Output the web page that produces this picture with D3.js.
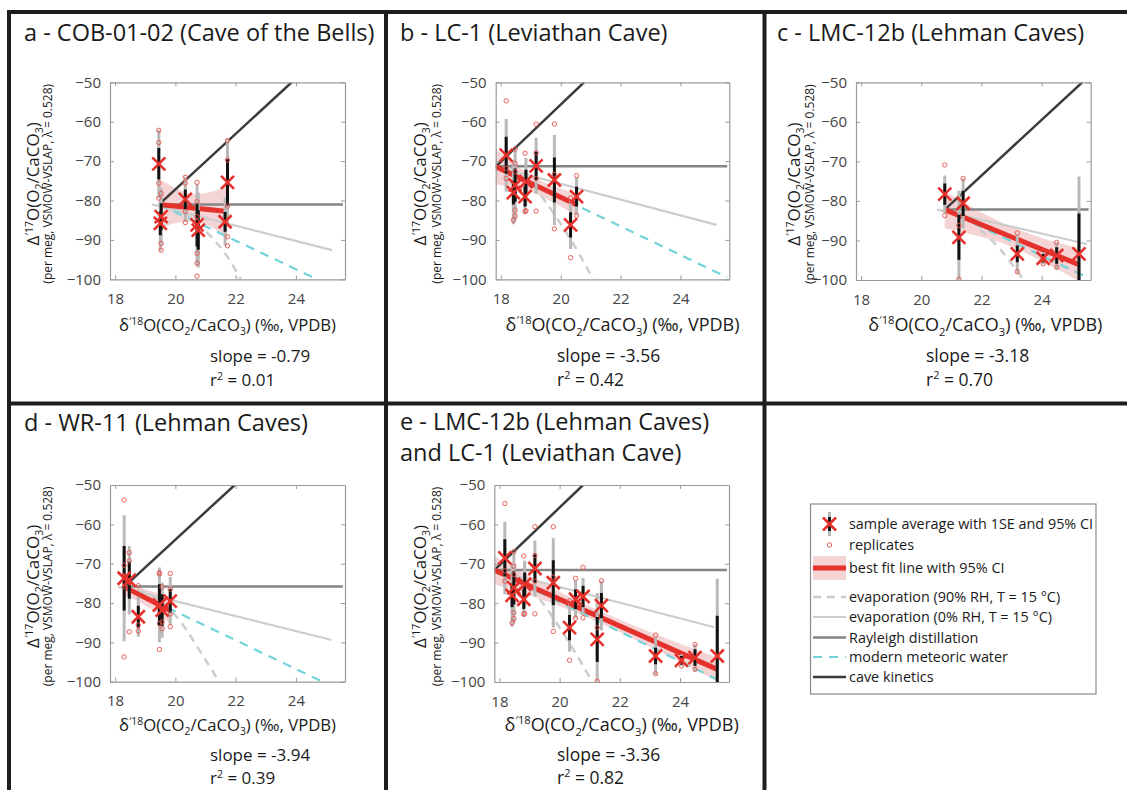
<!DOCTYPE html>
<html><head><meta charset="utf-8">
<script src="https://cdn.jsdelivr.net/npm/d3@7"></script>
<style>
body{margin:0;background:#fff}
svg{display:block}
text{font-family:"Open Sans",sans-serif}
</style></head>
<body><svg id="chart" width="1127" height="790"></svg>
<script>
// ---------------- DATA ----------------
const panelTitles = [
  ["a - COB-01-02 (Cave of the Bells)"],
  ["b - LC-1 (Leviathan Cave)"],
  ["c - LMC-12b (Lehman Caves)"],
  ["d - WR-11 (Lehman Caves)"],
  ["e - LMC-12b (Lehman Caves)", "and LC-1 (Leviathan Cave)"]
];
const slopeLabels = ["-0.79", "-3.56", "-3.18", "-3.94", "-3.36"];
const r2Labels = ["0.01", "0.42", "0.70", "0.39", "0.82"];
const xTicks = [18, 20, 22, 24];
const yTicks = [-50, -60, -70, -80, -90, -100];
const xDomain = [17.83, 25.63];
const yDomain = [-100, -50];

// samples: [x, mean, 1SE, 95% CI half-width]
const aSamples = [
  [19.45, -70.7, 4.0, 8.6], [19.53, -84.1, 3.4, 7.2], [19.50, -85.8, 3.0, 7.0],
  [20.33, -79.7, 2.5, 5.7], [20.72, -86.2, 5.5, 10.3], [20.76, -87.5, 5.0, 9.5],
  [21.73, -75.4, 5.9, 11.0], [21.65, -85.4, 2.5, 6.1]
];
const bSamples = [
  [18.18, -68.5, 4.7, 9.2], [18.48, -76.1, 4.2, 9.0], [18.42, -78.0, 3.0, 8.0],
  [18.84, -75.2, 3.0, 6.0], [18.81, -79.0, 2.5, 4.5], [19.18, -71.2, 3.6, 7.1],
  [19.79, -74.8, 5.7, 11.4], [20.33, -86.2, 3.2, 6.1], [20.53, -79.0, 2.5, 4.8]
];
const cSamples = [
  [20.78, -78.3, 2.7, 4.7], [21.39, -80.6, 3.2, 6.3], [21.25, -89.2, 5.7, 11.8],
  [23.19, -93.4, 2.1, 4.8], [24.05, -94.5, 1.1, 1.5], [24.50, -93.8, 2.1, 3.4],
  [25.24, -93.4, 10.2, 19.6]
];
const dSamples = [
  [18.30, -73.7, 8.2, 16.0], [18.47, -74.2, 4.7, 8.7], [18.77, -83.5, 2.8, 5.1],
  [19.47, -80.5, 5.3, 9.5], [19.56, -81.8, 4.0, 7.0], [19.83, -79.5, 3.0, 6.1]
];
const eSamples = bSamples.concat(cSamples);

// replicates: [x, value]
const aReps = [
  [19.45, -62.2], [19.45, -65.3], [19.45, -75.6], [19.45, -79.4],
  [19.53, -78.2], [19.53, -90.9], [19.53, -92.6],
  [20.33, -74.1], [20.33, -75.6], [20.33, -82.8], [20.33, -85.6],
  [20.72, -75.4], [20.72, -80.3], [20.72, -84.1], [20.72, -85.4], [20.72, -93.4], [20.72, -95.9], [20.72, -99.2],
  [21.73, -64.8], [21.73, -69.7], [21.73, -81.4], [21.73, -89.2], [21.73, -91.5]
];
const bReps = [
  [18.18, -54.7], [18.18, -71.8], [18.18, -74.4],
  [18.48, -66.9], [18.48, -70.6], [18.48, -72.7], [18.48, -82.4], [18.48, -83.9], [18.42, -85.0],
  [18.81, -68.0], [18.81, -82.8], [18.84, -82.6],
  [19.18, -60.6], [19.18, -67.9], [19.18, -74.4], [19.18, -82.7],
  [19.79, -60.6], [19.79, -73.4], [19.79, -87.2],
  [20.33, -79.4], [20.33, -94.5],
  [20.53, -73.7], [20.53, -83.8]
];
const cReps = [
  [20.78, -70.9], [20.78, -83.7], [21.39, -74.3], [21.25, -86.2], [21.25, -99.8],
  [23.19, -88.1], [23.19, -97.9], [24.05, -94.6], [24.05, -95.9], [24.50, -90.5], [24.50, -96.8]
];
const dReps = [
  [18.30, -53.8], [18.30, -70.4], [18.30, -75.9], [18.30, -93.7],
  [18.47, -67.2], [18.47, -69.3], [18.47, -87.3],
  [18.77, -75.6], [18.77, -85.6], [18.77, -87.1],
  [19.47, -72.3], [19.47, -72.6], [19.47, -85.2], [19.47, -91.8],
  [19.56, -75.9], [19.56, -84.8], [19.56, -86.5],
  [19.83, -72.5], [19.83, -76.5], [19.83, -82.8], [19.83, -86.0]
];
const eReps = bReps.concat(cReps);

// best-fit lines (start, end) and 95% CI band [x, low, high]
const fitLines = [
  [[19.46, -81.0], [21.73, -82.8]],
  [[17.83, -71.4], [20.53, -81.1]],
  [[20.78, -82.2], [25.24, -96.1]],
  [[18.30, -75.9], [19.83, -81.9]],
  [[17.83, -71.6], [25.24, -96.8]]
];
const aBand = [[19.46, -87.3, -74.5], [20.1, -85.6, -77.2], [20.6, -85.3, -78.4], [21.2, -86.8, -77.8], [21.73, -89.6, -76.0]];
const bBand = [[17.83, -75.9, -66.9], [18.5, -76.9, -70.9], [19.2, -78.4, -74.4], [19.9, -81.1, -76.7], [20.53, -83.9, -78.3]];
const cBand = [[20.78, -86.9, -77.5], [21.9, -88.9, -82.5], [23.0, -91.6, -86.6], [24.1, -95.6, -89.6], [25.24, -100.3, -91.9]];
const dBand = [[18.3, -78.0, -73.8], [18.7, -79.3, -75.5], [19.05, -80.9, -76.7], [19.45, -82.8, -77.6], [19.83, -85.5, -78.2]];
const eBand = [[17.83, -75.1, -68.1], [19.6, -79.6, -75.6], [21.4, -85.2, -82.2], [23.3, -92.2, -88.2], [25.24, -99.8, -93.8]];

// model lines per panel (a..e)
const kineticsLines = [
  [[19.46, -81.0], [23.86, -50]], [[17.83, -71.4], [20.78, -50]], [[20.78, -82.2], [25.35, -50]],
  [[18.30, -75.9], [21.97, -50]], [[17.83, -71.6], [20.78, -50]]
];
const rayleighLines = [
  [[19.46, -81.0], [25.56, -81.0]], [[17.83, -71.3], [25.56, -71.3]], [[20.78, -82.2], [25.56, -82.2]],
  [[18.30, -75.8], [25.56, -75.8]], [[17.83, -71.6], [25.56, -71.6]]
];
const evap0Lines = [
  [[19.22, -81.0], [25.2, -92.6]], [[17.83, -71.4], [25.2, -86.2]], [[20.53, -82.2], [25.5, -90.9]],
  [[18.10, -75.9], [25.19, -89.4]], [[17.83, -71.6], [25.14, -86.1]]
];
const evap90Lines = [
  [[19.46, -81.0], [20.1, -82.2], [20.72, -85.9], [21.2, -89.3], [21.7, -94.0], [22.17, -100]],
  [[17.83, -71.4], [18.45, -72.6], [19.05, -75.9], [19.53, -80.7], [20.3, -89.5], [21.09, -100]],
  [[20.78, -82.2], [21.4, -83.4], [22.0, -87.5], [22.6, -92.0], [23.17, -97.6], [23.4, -100]],
  [[18.30, -75.9], [18.9, -77.1], [19.52, -79.7], [20.13, -84.35], [20.8, -92.0], [21.45, -100]],
  [[17.83, -71.6], [18.45, -72.8], [19.05, -76.2], [19.53, -80.9], [20.3, -89.8], [21.09, -100]]
];
const meteoricLines = [
  [[19.46, -81.0], [24.71, -100]], [[17.83, -71.4], [25.56, -99.5]], [[20.78, -82.2], [25.56, -99.5]],
  [[18.30, -75.9], [24.88, -100]], [[17.83, -71.6], [25.40, -100]]
];

const legendLabels = [
  "sample average with 1SE and 95% CI", "replicates", "best fit line with 95% CI",
  "evaporation (90% RH, T = 15 °C)", "evaporation (0% RH, T = 15 °C)",
  "Rayleigh distillation", "modern meteoric water", "cave kinetics"
];

const samplesList = [aSamples, bSamples, cSamples, dSamples, eSamples];
const repsList = [aReps, bReps, cReps, dReps, eReps];
const bandList = [aBand, bBand, cBand, dBand, eBand];

// ---------------- STYLE / LAYOUT ----------------
const COL = {
  red: "#e4312c", band: "#e9a9ac", kin: "#3b3b3b", ray: "#858585", evap: "#cdcdcd",
  met: "#72d4d8", ci: "#b9b9b9", se: "#111111", axis: "#9a9a9a", tick: "#444444", border: "#1e1e1e"
};
const layout = [
  {L: 110, R: 345, T: 82.3, B: 279.3, tx: 24, ty: 41, yl1: 39, yl2: 52, sx: 210, xo: 0, xf: 16.7, sf: 17, row: 0},
  {L: 495.7, R: 729.3, T: 82.3, B: 279.3, tx: 400, ty: 41, yl1: 426, yl2: 441, sx: 557, xo: 10, xf: 18, sf: 17.5, row: 0},
  {L: 856, R: 1090.7, T: 82.3, B: 280, tx: 777, ty: 41, yl1: 800, yl2: 814, sx: 926, xo: 12, xf: 18, sf: 17.5, row: 0},
  {L: 110, R: 345, T: 485, B: 681.7, tx: 24, ty: 431, yl1: 39, yl2: 52, sx: 210, xo: 0, xf: 16.7, sf: 17, row: 1},
  {L: 494.3, R: 729, T: 485, B: 682, tx: 400, ty: 430, yl1: 426, yl2: 441, sx: 557, xo: 10, xf: 18, sf: 17.5, row: 1}
];
const rowText = [
  {tick: 14, xlab: 331, slope: 362, r2: 386},
  {tick: 14, xlab: 731, slope: 761, r2: 784}
];

const svg = d3.select("#chart");

function rich(sel, parts, size) {
  let state = "n";
  parts.forEach(([t, m]) => {
    const small = size * 0.62;
    const shiftSup = -size * 0.38, shiftSub = size * 0.25;
    const cur = state === "sup" ? shiftSup : state === "sub" ? shiftSub : 0;
    const nxt = m === "sup" ? shiftSup : m === "sub" ? shiftSub : 0;
    sel.append("tspan").attr("dy", nxt - cur).attr("font-size", m === "n" ? size : small).text(t);
    state = m;
  });
}

layout.forEach((p, i) => {
  const x = d3.scaleLinear().domain(xDomain).range([p.L, p.R]);
  const y = d3.scaleLinear().domain(yDomain).range([p.B, p.T]);
  const g = svg.append("g");
  const clipId = "clip" + i;
  svg.append("clipPath").attr("id", clipId).append("rect")
    .attr("x", p.L).attr("y", p.T).attr("width", p.R - p.L).attr("height", p.B - p.T);
  const pg = g.append("g").attr("clip-path", `url(#${clipId})`);

  const area = d3.area().x(d => x(d[0])).y0(d => y(d[1])).y1(d => y(d[2])).curve(d3.curveMonotoneX);
  pg.append("path").datum(bandList[i]).attr("d", area).attr("fill", COL.band).attr("fill-opacity", 0.5);

  const line = d3.line().x(d => x(d[0])).y(d => y(d[1]));
  const lineC = d3.line().x(d => x(d[0])).y(d => y(d[1])).curve(d3.curveMonotoneX);
  pg.append("path").datum(evap0Lines[i]).attr("d", line).attr("fill", "none").attr("stroke", COL.evap).attr("stroke-width", 2.2);
  pg.append("path").datum(evap90Lines[i]).attr("d", lineC).attr("fill", "none").attr("stroke", COL.evap).attr("stroke-width", 2.5).attr("stroke-dasharray", "8,6");
  pg.append("path").datum(meteoricLines[i]).attr("d", line).attr("fill", "none").attr("stroke", COL.met).attr("stroke-width", 2.2).attr("stroke-dasharray", "9,7");
  pg.append("path").datum(rayleighLines[i]).attr("d", line).attr("fill", "none").attr("stroke", COL.ray).attr("stroke-width", 2.5);
  pg.append("path").datum(kineticsLines[i]).attr("d", line).attr("fill", "none").attr("stroke", COL.kin).attr("stroke-width", 2.5);

  pg.append("path").datum(fitLines[i]).attr("d", line).attr("fill", "none").attr("stroke", COL.red).attr("stroke-width", 5);

  const S = samplesList[i];
  pg.selectAll(".ci").data(S).join("line")
    .attr("x1", d => x(d[0])).attr("x2", d => x(d[0]))
    .attr("y1", d => y(d[1] - d[3])).attr("y2", d => y(d[1] + d[3]))
    .attr("stroke", COL.ci).attr("stroke-width", 3);
  pg.selectAll(".se").data(S).join("line")
    .attr("x1", d => x(d[0])).attr("x2", d => x(d[0]))
    .attr("y1", d => y(d[1] - d[2])).attr("y2", d => y(d[1] + d[2]))
    .attr("stroke", COL.se).attr("stroke-width", 3);
  pg.selectAll(".rep").data(repsList[i]).join("circle")
    .attr("cx", d => x(d[0])).attr("cy", d => y(d[1])).attr("r", 2.2)
    .attr("fill", "none").attr("stroke", "#e8504c").attr("stroke-width", 0.9);
  pg.selectAll(".avg").data(S).join("path")
    .attr("transform", d => `translate(${x(d[0])},${y(d[1])})`)
    .attr("d", "M-6.5,-6.5L6.5,6.5M-6.5,6.5L6.5,-6.5")
    .attr("stroke", COL.red).attr("stroke-width", 2.6).attr("fill", "none");

  const ax = [
    d3.axisBottom(x).tickValues(xTicks).tickSize(-4).tickSizeOuter(0).tickPadding(rowText[p.row].tick),
    d3.axisTop(x).tickValues(xTicks).tickSize(-4).tickSizeOuter(0).tickFormat(""),
    d3.axisLeft(y).tickValues(yTicks).tickSize(-4).tickSizeOuter(0).tickPadding(9),
    d3.axisRight(y).tickValues(yTicks).tickSize(-4).tickSizeOuter(0).tickFormat("")
  ];
  const tr = [`translate(0,${p.B})`, `translate(0,${p.T})`, `translate(${p.L},0)`, `translate(${p.R},0)`];
  ax.forEach((a, k) => {
    const ag = g.append("g").attr("transform", tr[k]).call(a);
    ag.select(".domain").attr("stroke", COL.axis).attr("stroke-width", 1.2);
    ag.selectAll(".tick line").attr("stroke", COL.axis);
    ag.selectAll(".tick text").attr("fill", COL.tick).attr("font-size", 15)
      .attr("font-family", '"Open Sans",sans-serif');
  });

  panelTitles[i].forEach((t, k) => {
    g.append("text").attr("x", p.tx).attr("y", p.ty + k * 31).attr("font-size", 23.5).attr("fill", "#1a1a1a").text(t);
  });

  const cy = (p.T + p.B) / 2 + 3;
  const yl = g.append("text").attr("transform", `translate(${p.yl1},${cy}) rotate(-90)`)
    .attr("text-anchor", "middle").attr("fill", "#1a1a1a");
  rich(yl, [["Δ", "n"], ["′17", "sup"], ["O(O", "n"], ["2", "sub"], ["/CaCO", "n"], ["3", "sub"], [")", "n"]], 17);
  g.append("text").attr("transform", `translate(${p.yl2},${cy}) rotate(-90)`)
    .attr("text-anchor", "middle").attr("fill", "#1a1a1a").attr("font-size", 12)
    .text("(per meg, VSMOW-VSLAP, λ = 0.528)");

  const rt = rowText[p.row];
  const xl = g.append("text").attr("x", (p.L + p.R) / 2 + p.xo).attr("y", rt.xlab)
    .attr("text-anchor", "middle").attr("fill", "#1a1a1a");
  rich(xl, [["δ", "n"], ["′18", "sup"], ["O(CO", "n"], ["2", "sub"], ["/CaCO", "n"], ["3", "sub"], [") (‰, VPDB)", "n"]], p.xf);

  g.append("text").attr("x", p.sx).attr("y", rt.slope).attr("font-size", p.sf).attr("fill", "#1a1a1a")
    .text("slope = " + slopeLabels[i]);
  const r2 = g.append("text").attr("x", p.sx).attr("y", rt.r2).attr("fill", "#1a1a1a");
  rich(r2, [["r", "n"], ["2", "sup"], [" = " + r2Labels[i], "n"]], p.sf);
});

// ---------------- LEGEND ----------------
const lg = svg.append("g");
lg.append("rect").attr("x", 810.5).attr("y", 504).attr("width", 285.5).attr("height", 190)
  .attr("fill", "#fff").attr("stroke", "#8a8a8a").attr("stroke-width", 1.2);
const legY = [524, 545, 568, 597, 617, 637.5, 657, 677];
const lx0 = 813, lx1 = 846, sx = 829.5;
lg.append("line").attr("x1", sx).attr("x2", sx).attr("y1", legY[0] - 12).attr("y2", legY[0] + 12).attr("stroke", COL.ci).attr("stroke-width", 3);
lg.append("line").attr("x1", sx).attr("x2", sx).attr("y1", legY[0] - 7).attr("y2", legY[0] + 7).attr("stroke", COL.se).attr("stroke-width", 3);
lg.append("path").attr("transform", `translate(${sx},${legY[0]})`).attr("d", "M-6.5,-6.5L6.5,6.5M-6.5,6.5L6.5,-6.5")
  .attr("stroke", COL.red).attr("stroke-width", 2.6);
lg.append("circle").attr("cx", sx).attr("cy", legY[1]).attr("r", 2.2).attr("fill", "none").attr("stroke", "#e8504c").attr("stroke-width", 0.9);
lg.append("rect").attr("x", lx0).attr("y", legY[2] - 12).attr("width", lx1 - lx0).attr("height", 24).attr("fill", COL.band).attr("fill-opacity", 0.5);
lg.append("line").attr("x1", lx0).attr("x2", lx1).attr("y1", legY[2]).attr("y2", legY[2]).attr("stroke", COL.red).attr("stroke-width", 5);
const legStyles = [
  [COL.evap, 2.5, "8,6"], [COL.evap, 2.2, null], [COL.ray, 2.5, null], [COL.met, 2.2, "9,7"], [COL.kin, 2.5, null]
];
legStyles.forEach((s, k) => {
  lg.append("line").attr("x1", lx0).attr("x2", lx1).attr("y1", legY[k + 3]).attr("y2", legY[k + 3])
    .attr("stroke", s[0]).attr("stroke-width", s[1]).attr("stroke-dasharray", s[2]);
});
legendLabels.forEach((t, k) => {
  lg.append("text").attr("x", 849).attr("y", legY[k] + 5).attr("font-size", 14.4).attr("fill", "#1a1a1a").text(t);
});

// ---------------- PANEL BORDERS ----------------
const borders = [
  [9, 12, 9, 790], [7, 12, 1127, 12], [386, 12, 386, 790], [764.5, 12, 764.5, 790], [7, 403.5, 1127, 403.5]
];
svg.selectAll(".border").data(borders).join("line")
  .attr("x1", d => d[0]).attr("y1", d => d[1]).attr("x2", d => d[2]).attr("y2", d => d[3])
  .attr("stroke", COL.border).attr("stroke-width", 4);
</script>
</body></html>
